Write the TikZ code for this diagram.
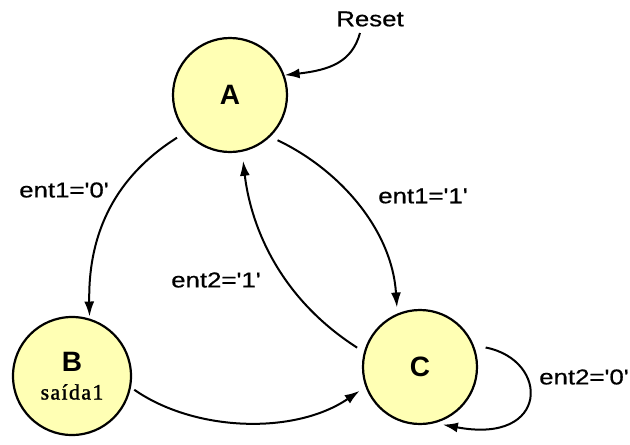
\documentclass[tikz,border=0pt]{standalone}
\usepackage{fontspec}
\setmainfont{Liberation Sans}
\newfontfamily\lblfont[FakeStretch=1.2,FakeBold=0.6]{Liberation Sans}
\newfontfamily\outfont[LetterSpace=6,FakeBold=1.2]{Liberation Serif}
\usetikzlibrary{arrows.meta}
\definecolor{stfill}{RGB}{255,255,180}
\tikzset{
  state/.style={circle, draw=black, line width=2.2pt, fill=stfill, minimum size=114pt, inner sep=0pt,
    font=\fontsize{28}{30}\selectfont\bfseries, align=center},
  lbl/.style={font=\lblfont\fontsize{21.5}{24}\selectfont, inner sep=0pt},
  arr/.style={line width=2pt, -{Latex[length=15pt,width=10pt]}},
}
\begin{document}
\begin{tikzpicture}[x=1pt,y=-1pt]
\useasboundingbox (0,0) rectangle (630,445);
\node[state] (A) at (230,95) {A};
\node[state, minimum size=118pt] (B) at (72,376) {B\\[-2pt]{\outfont\fontsize{22}{22}\selectfont\mdseries saída1}};
\node[state] (C) at (420,367) {C};

\node[lbl] (reset) at (370,19) {Reset};
\coordinate (rs) at (360,33);
\node[lbl] (l1) at (64,190) {ent1='0'};
\node[lbl] (l2) at (423,196) {ent1='1'};
\node[lbl] (l3) at (216,280) {ent2='1'};
\node[lbl] (l4) at (584,377) {ent2='0'};

\draw[arr] (rs) .. controls (352,62) and (330,70) .. (A.20);
\draw[arr, shorten <=10pt, shorten >=2pt] (A.220) .. controls (110,180) and (88,240) .. (B.73);
\draw[arr, shorten <=8pt, shorten >=6pt] (A.-46) .. controls (340,170) and (392,230) .. (C.113);
\draw[arr, shorten <=8pt, shorten >=9pt] (C.165) .. controls (275,295) and (250,220) .. (A.-78);
\draw[arr, shorten <=4pt, shorten >=7pt] (B.-11) .. controls (195,432) and (295,435) .. (C.-160);
\draw[arr, shorten <=12pt, shorten >=8pt] (C.22) .. controls (550,360) and (550,445) .. (C.-75);
\end{tikzpicture}
\end{document}
